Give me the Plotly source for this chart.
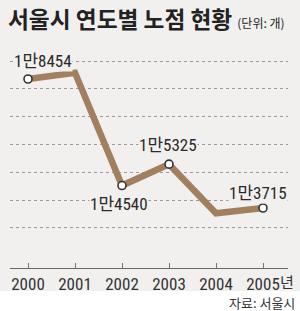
import plotly.graph_objects as go

years = [2000, 2001, 2002, 2003, 2004, 2005]
counts = [18454, 18680, 14540, 15325, 13520, 13715]
labels = ["1만8454", "", "1만4540", "1만5325", "", "1만3715"]
tick_text = ["2000", "2001", "2002", "2003", "2004", "2005"]
grid_vals = [12980, 14002, 15025, 16047, 17070, 18092, 19115]

BG = "#f1f0ee"
LINE = "#a2805f"
NUM_FONT = "Liberation Sans Narrow, Arial Narrow, Roboto Condensed, Noto Sans CJK KR, sans-serif"
KR_FONT = "Noto Sans CJK KR, sans-serif"

fig = go.Figure()
fig.add_trace(go.Scatter(x=years, y=counts, mode="lines",
                         line=dict(color=LINE, width=6.5), hoverinfo="skip", cliponaxis=False))
mx = [x for x, l in zip(years, labels) if l]
my = [y for y, l in zip(counts, labels) if l]
fig.add_trace(go.Scatter(x=mx, y=my, mode="markers", cliponaxis=False,
                         marker=dict(size=8, color="white", line=dict(color="#333", width=1.6))))

# label offsets (pixels) relative to data points
shifts = {2000: (-15, 18, "left"), 2002: (-3, -18, "center"), 2003: (-1, 19, "center"), 2005: (-5, 15, "center")}
for x, y, l in zip(years, counts, labels):
    if not l:
        continue
    dx, dy, anc = shifts[x]
    fig.add_annotation(x=x, y=y, text=l, showarrow=False, xshift=dx, yshift=dy, xanchor=anc,
                       yanchor="middle", font=dict(family=NUM_FONT, size=17, color="#2a2a2a"),
                       bgcolor=BG, borderpad=0)

fig.add_annotation(x=2005, y=-0.063, yref="paper", text="년", showarrow=False, xanchor="left",
                   xshift=15, yanchor="middle", font=dict(family=KR_FONT, size=15, color="#333"))
fig.add_annotation(x=1.032, y=-0.16, xref="paper", yref="paper", text="자료: 서울시", showarrow=False,
                   xanchor="right", yanchor="middle", font=dict(family=KR_FONT, size=13, color="#333"))

fig.add_shape(type="rect", xref="paper", yref="paper", x0=-0.1, x1=1.1, y0=-0.108, y1=-0.4,
              fillcolor="white", line=dict(width=0), layer="below")

fig.update_layout(
    width=300, height=311,
    margin=dict(l=10, r=12, t=55, b=43),
    paper_bgcolor=BG, plot_bgcolor=BG,
    showlegend=False,
    title=dict(text='<b>서울시 연도별 노점 현황</b> <span style="font-size:12px">(단위: 개)</span>',
               x=8 / 300, xanchor="left", xref="container", y=1 - 20 / 311, yanchor="middle", yref="container",
               font=dict(family=KR_FONT, size=22.7, color="#222")),
    xaxis=dict(range=[1999.617, 2005.532], tickvals=years, ticktext=tick_text, showgrid=False,
               zeroline=False, showline=True, linecolor="#666", linewidth=1.3,
               ticks="inside", ticklen=5, tickcolor="#777", tickwidth=1,
               tickfont=dict(family=NUM_FONT, size=17, color="#333")),
    yaxis=dict(range=[11510, 19336], tickvals=grid_vals, showticklabels=False, showgrid=True,
               gridcolor="#9a9a9a", griddash="dot", gridwidth=1, zeroline=False, showline=False, ticks=""),
)

fig.write_html("out.html")
